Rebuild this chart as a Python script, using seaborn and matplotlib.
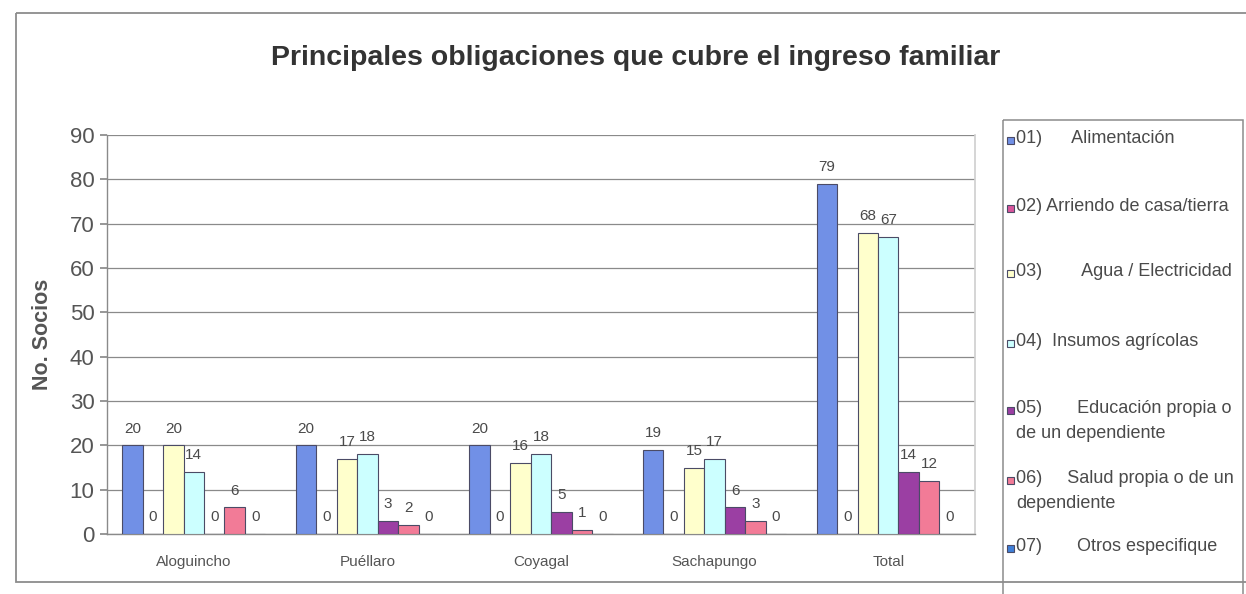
import matplotlib
matplotlib.use("Agg")
import matplotlib.pyplot as plt
from matplotlib.patches import Rectangle
import seaborn as sns
import pandas as pd

# ---- data -------------------------------------------------------------
categories = ["Aloguincho", "Puéllaro", "Coyagal", "Sachapungo", "Total"]
series_labels = [
    "01)      Alimentación",
    "02) Arriendo de casa/tierra",
    "03)        Agua / Electricidad",
    "04)  Insumos agrícolas",
    "05)       Educación propia o\nde un dependiente",
    "06)     Salud propia o de un\ndependiente",
    "07)       Otros especifique",
]
alimentacion = [20, 20, 20, 19, 79]
arriendo = [0, 0, 0, 0, 0]
agua_electricidad = [20, 17, 16, 15, 68]
insumos_agricolas = [14, 18, 18, 17, 67]
educacion = [0, 3, 5, 6, 14]
salud = [6, 2, 1, 3, 12]
otros = [0, 0, 0, 0, 0]
y_ticks = [0, 10, 20, 30, 40, 50, 60, 70, 80, 90]

series_values = [alimentacion, arriendo, agua_electricidad, insumos_agricolas,
                 educacion, salud, otros]
colors = ["#7190e6", "#d9559c", "#ffffcc", "#ccffff", "#9b3fa3", "#f27b97", "#3f7fd8"]

df = pd.DataFrame(
    [(cat, lab, vals[i]) for lab, vals in zip(series_labels, series_values)
     for i, cat in enumerate(categories)],
    columns=["grupo", "serie", "socios"],
)

# ---- figure -----------------------------------------------------------
sns.set_theme(style="white")
plt.rcParams["font.family"] = ["Liberation Sans", "DejaVu Sans"]
W, H = 1246, 594
fig = plt.figure(figsize=(W / 100, H / 100), dpi=100)
fig.patch.set_facecolor("white")

# overlay in pixel coordinates for the chart frame and legend
over = fig.add_axes([0, 0, 1, 1], zorder=0)
over.set_xlim(0, W)
over.set_ylim(H, 0)
over.axis("off")
over.add_patch(Rectangle((16, 13), 1260, 569, fill=False, edgecolor="#8c8c8c",
                         lw=1.3, clip_on=False))
over.add_patch(Rectangle((1003, 120), 240, 500, fill=False, edgecolor="#8c8c8c",
                         lw=1.1, clip_on=False))

left, right, top, zero = 107, 975, 135, 534
ax = fig.add_axes([left / W, 1 - zero / H, (right - left) / W, (zero - top) / H], zorder=2)
ax.patch.set_alpha(0)

sns.barplot(data=df, x="grupo", y="socios", hue="serie", hue_order=series_labels,
            palette=colors, saturation=1, width=0.825, gap=0, errorbar=None,
            edgecolor="#4b4b66", linewidth=0.8, legend=False, ax=ax, zorder=3)

for cont in ax.containers:
    ax.bar_label(cont, fmt="%d", padding=7, fontsize=11, color="#4a4a4a")

ax.set_ylim(0, 90)
ax.set_xlim(-0.5, len(categories) - 0.5)
ax.set_yticks(y_ticks)
ax.yaxis.grid(True, color="#8a8a8a", lw=0.9, zorder=0)
ax.set_axisbelow(True)
ax.tick_params(axis="y", labelsize=16, labelcolor="#555555", length=5,
               color="#8a8a8a", direction="out", left=True, pad=4)
ax.tick_params(axis="x", labelsize=11, labelcolor="#555555", length=0, pad=15)
ax.set_xticks(range(len(categories)))
ax.set_xticks([i - 0.5 for i in range(len(categories) + 1)], minor=True)
ax.tick_params(axis="x", which="minor", length=4, color="#8a8a8a", direction="out")
for side in ["left", "bottom"]:
    ax.spines[side].set_color("#8a8a8a")
    ax.spines[side].set_linewidth(1.0)
ax.spines["top"].set_visible(False)
ax.spines["right"].set_color("#d0d0d0")
ax.set_xlabel("")
ax.set_ylabel("No. Socios", fontsize=15.5, fontweight="bold", color="#555555", labelpad=12)

fig.text(636 / W, 1 - 58 / H, "Principales obligaciones que cubre el ingreso familiar",
         ha="center", va="center", fontsize=20.5, fontweight="bold", color="#333333")

# legend entries
row_y = [140, 208, 273, 343, 410, 480, 548]
for lab, col, y in zip(series_labels, colors, row_y):
    over.add_patch(Rectangle((1007, y - 3.5), 7, 7, facecolor=col, edgecolor="#4b4b66",
                             lw=0.8))
    over.text(1016, y - 10, lab, ha="left", va="top", fontsize=13, color="#4a4a4a",
              linespacing=1.6)

fig.savefig("out.png", dpi=100, facecolor="white")
